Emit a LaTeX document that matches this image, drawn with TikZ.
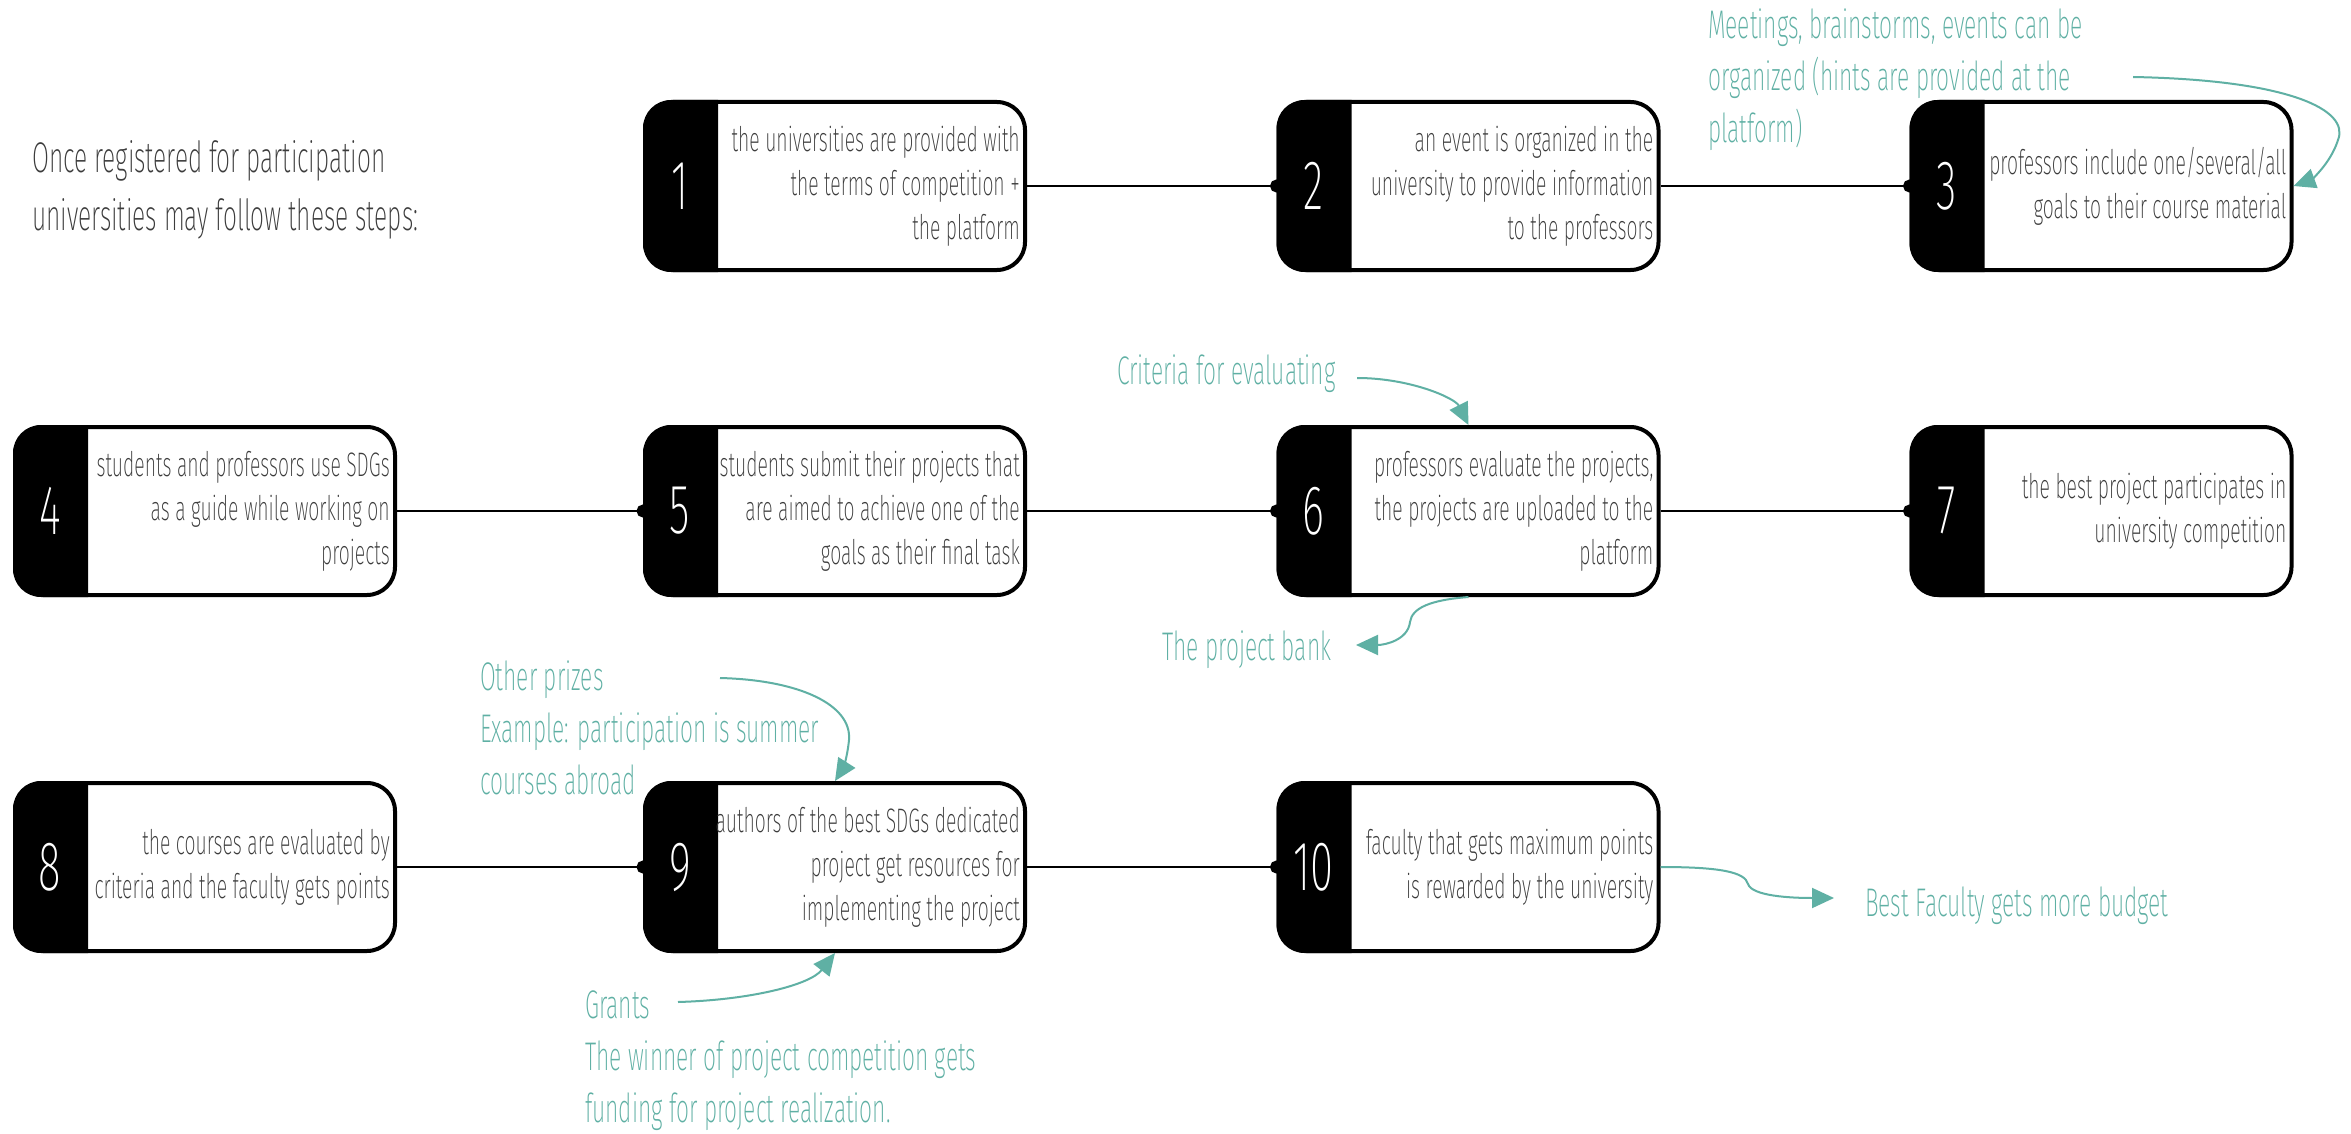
\documentclass[tikz,border=0pt]{standalone}
\usepackage{fontspec}
\setmainfont{Fira Sans ExtraLight}[FakeStretch=0.57]
\newfontfamily\digitfont{Fira Sans ExtraLight}[FakeStretch=0.6]
\usetikzlibrary{calc,arrows.meta}
\definecolor{teal1}{RGB}{95,176,164}
\definecolor{txtgray}{RGB}{60,60,60}
\newcommand\blackpart[1]{%
  \begin{scope}
    \clip ($(#1.north west)+(-10,-10)$) rectangle ($(#1.south west)+(75,10)$);
    \fill[black, rounded corners=28pt] (#1.north west) rectangle (#1.south east);
  \end{scope}}
\begin{document}
\begin{tikzpicture}[x=1pt,y=-1pt,
  stepbox/.style={draw=black, line width=4pt, rounded corners=28pt, fill=white, minimum width=380pt, minimum height=168pt, inner sep=0pt},
  digit/.style={text=white, font=\digitfont\fontsize{70}{70}\selectfont, inner sep=0pt},
  boxtext/.style={text=txtgray, font=\fontsize{34}{44}\selectfont, align=right, anchor=east, inner sep=0pt},
  note/.style={text=teal1, font=\fontsize{40}{52}\selectfont, align=left, anchor=north west, inner sep=0pt},
  intro/.style={text=txtgray, font=\fontsize{43}{58}\selectfont, align=left, anchor=north west, inner sep=0pt},
  conn/.style={draw=black, line width=2pt, -{Circle[length=13pt]}, shorten >=-6.5pt},
  tealarrow/.style={draw=teal1, line width=2pt, -{Triangle[length=22pt,width=20pt]}},
]
\fill[white] (0,0) rectangle (2351,1134);
\useasboundingbox (0,0) rectangle (2351,1134);

% intro text
\node[intro] (intro) at (32,140) {Once registered for participation\\universities may follow these steps:};

% boxes
\node[stepbox] (b1) at (835,186) {};
\node[stepbox] (b2) at (1468.5,186) {};
\node[stepbox] (b3) at (2101.5,186) {};
\node[stepbox] (b4) at (205,511) {};
\node[stepbox] (b5) at (835,511) {};
\node[stepbox] (b6) at (1468.5,511) {};
\node[stepbox] (b7) at (2101.5,511) {};
\node[stepbox] (b8) at (205,867) {};
\node[stepbox] (b9) at (835,867) {};
\node[stepbox] (b10) at (1468.5,867) {};

\foreach \b in {b1,b2,b3,b4,b5,b6,b7,b8,b9,b10}{\blackpart{\b}}

% digits
\node[digit] (n1) at ($(b1.west)+(37,0)$) {1};
\node[digit] (n2) at ($(b2.west)+(37,0)$) {2};
\node[digit] (n3) at ($(b3.west)+(37,0)$) {3};
\node[digit] (n4) at ($(b4.west)+(37,0)$) {4};
\node[digit] (n5) at ($(b5.west)+(37,0)$) {5};
\node[digit] (n6) at ($(b6.west)+(37,0)$) {6};
\node[digit] (n7) at ($(b7.west)+(37,0)$) {7};
\node[digit] (n8) at ($(b8.west)+(37,0)$) {8};
\node[digit] (n9) at ($(b9.west)+(37,0)$) {9};
\node[digit] (n10) at ($(b10.west)+(37,0)$) {10};

% box texts
\node[boxtext] (t1) at ($(b1.east)+(-7,0)$) {the universities are provided with\\the terms of competition +\\the platform};
\node[boxtext] (t2) at ($(b2.east)+(-7,0)$) {an event is organized in the\\university to provide information\\to the professors};
\node[boxtext] (t3) at ($(b3.east)+(-7,0)$) {professors include one/several/all\\goals to their course material};
\node[boxtext] (t4) at ($(b4.east)+(-7,0)$) {students and professors use SDGs\\as a guide while working on\\projects};
\node[boxtext] (t5) at ($(b5.east)+(-7,0)$) {students submit their projects that\\are aimed to achieve one of the\\goals as their final task};
\node[boxtext] (t6) at ($(b6.east)+(-7,0)$) {professors evaluate the projects,\\the projects are uploaded to the\\platform};
\node[boxtext] (t7) at ($(b7.east)+(-7,0)$) {the best project participates in\\university competition};
\node[boxtext] (t8) at ($(b8.east)+(-7,0)$) {the courses are evaluated by\\criteria and the faculty gets points};
\node[boxtext] (t9) at ($(b9.east)+(-7,0)$) {authors of the best SDGs dedicated\\project get resources for\\implementing the project};
\node[boxtext] (t10) at ($(b10.east)+(-7,0)$) {faculty that gets maximum points\\is rewarded by the university};

% connectors
\draw[conn] (b1.east) -- (b2.west);
\draw[conn] (b2.east) -- (b3.west);
\draw[conn] (b4.east) -- (b5.west);
\draw[conn] (b5.east) -- (b6.west);
\draw[conn] (b6.east) -- (b7.west);
\draw[conn] (b8.east) -- (b9.west);
\draw[conn] (b9.east) -- (b10.west);

% notes
\node[note] (meet) at (1708,9) {Meetings, brainstorms, events can be\\organized (hints are provided at the\\platform)};
\node[note] (crit) at (1117,355) {Criteria for evaluating};
\node[note] (bank) at (1162,631) {The project bank};
\node[note] (prize) at (480,661) {Other prizes\\Example: participation is summer\\courses abroad};
\node[note] (grant) at (585,991) {Grants\\The winner of project competition gets\\funding for project realization.};
\node[note] (budget) at (1865,887) {Best Faculty gets more budget};

% teal arrows
\coordinate (cmeet) at (2133,77);
\coordinate (ccrit) at (1357,378);
\coordinate (cbank) at (1356,645);
\coordinate (cprize) at (720,678);
\coordinate (cgrant) at (678,1002);
\coordinate (cbud) at (1834,898);
\draw[tealarrow] (cmeet) .. controls (2290,80) and (2350,110) .. (2338,140) .. controls (2330,165) and (2310,180) .. (b3.east);
\draw[tealarrow] (ccrit) .. controls (1410,378) and (1455,398) .. (b6.north);
\draw[tealarrow] (b6.south) .. controls (1430,600) and (1412,608) .. (1410,622) .. controls (1408,640) and (1385,645) .. (cbank);
\draw[tealarrow] (cprize) .. controls (800,680) and (852,705) .. (849,740) .. controls (847,760) and (842,770) .. (b9.north);
\draw[tealarrow] (cgrant) .. controls (750,1000) and (810,985) .. (b9.south);
\draw[tealarrow] (b10.east) .. controls (1720,867) and (1745,872) .. (1748,884) .. controls (1752,896) and (1790,898) .. (cbud);
\end{tikzpicture}
\end{document}
